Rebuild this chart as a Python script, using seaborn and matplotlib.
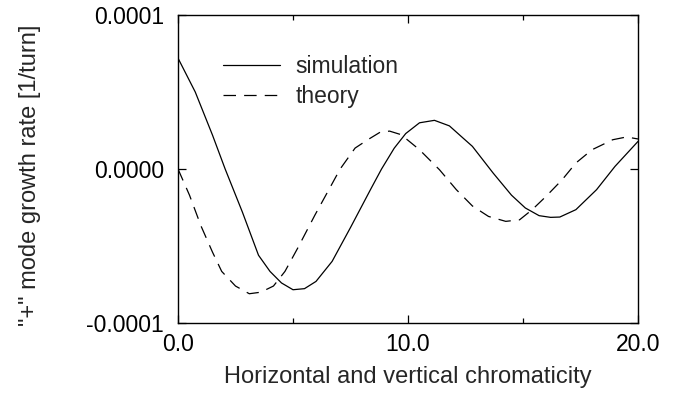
# %%
import numpy as np
import pandas as pd
import matplotlib
matplotlib.use('Agg')
import matplotlib.pyplot as plt
from matplotlib.ticker import FormatStrFormatter, MultipleLocator
import seaborn as sns

# %%
# Growth rate of the "+" mode vs chromaticity, values read in units of 1e-6 /turn
sim_chroma = [0.0, 0.75, 1.5, 2.05, 2.8, 3.5, 4.0, 4.5, 5.0, 5.5, 6.0, 6.7, 7.5,
              8.4, 8.85, 9.4, 9.9, 10.5, 11.15, 11.8, 12.4, 12.8, 13.7, 14.5,
              15.1, 15.7, 16.2, 16.6, 17.3, 18.2, 19.0, 20.0]
sim_rate = [72, 50, 22, 0, -28, -56, -66.5, -74, -78.4, -77.7, -73, -60, -38,
            -12.5, 0, 13.5, 23, 30, 31.6, 28, 20, 14.7, -2.6, -17,
            -25.3, -30.3, -31.4, -31.2, -26.4, -13.4, 1.7, 17.9]

theory_chroma = [0.0, 0.5, 1.0, 1.5, 1.9, 2.5, 3.1, 3.6, 4.15, 4.65, 5.2, 5.95,
                 6.6, 7.05, 7.7, 8.25, 8.8, 9.2, 9.7, 10.5, 11.37, 12.1, 12.8,
                 13.5, 14.25, 14.85, 15.4, 16.0, 16.7, 17.3, 18.0, 18.9, 19.5, 20.0]
theory_rate = [0, -17, -37, -54, -66.5, -76, -81, -80, -76, -66.5, -51.5, -30,
               -12.3, 0, 13.6, 19, 24, 24.6, 22.3, 12.5, -0.5, -13.4, -24,
               -30.8, -34, -33, -26.4, -17.8, -7, 3.9, 12.5, 19, 20.8, 19.5]

x_ticks = [0.0, 10.0, 20.0]
y_ticks = [-0.0001, 0.0, 0.0001]

# %%
sim = pd.DataFrame({'chroma': sim_chroma, 'rate': np.array(sim_rate) * 1e-6,
                    'series': 'simulation'})
theory = pd.DataFrame({'chroma': theory_chroma, 'rate': np.array(theory_rate) * 1e-6,
                       'series': 'theory'})
df = pd.concat([sim, theory], ignore_index=True)

sns.set_style('ticks')
plt.rcParams['font.family'] = ['Liberation Sans', 'DejaVu Sans']

fig, ax = plt.subplots(figsize=(6.84, 3.93), dpi=100)
fig.subplots_adjust(left=178/684, right=638/684, bottom=1-323/393, top=1-15/393)

sns.lineplot(data=df, x='chroma', y='rate', style='series',
             dashes={'simulation': '', 'theory': (10, 6.5)},
             color='black', linewidth=0.9, errorbar=None, sort=False, ax=ax)

ax.set_xlim(0, 20)
ax.set_ylim(-0.0001, 0.0001)
ax.set_xticks(x_ticks)
ax.set_yticks(y_ticks)
ax.xaxis.set_minor_locator(MultipleLocator(5))
ax.xaxis.set_major_formatter(FormatStrFormatter('%.1f'))
ax.yaxis.set_major_formatter(FormatStrFormatter('%.4f'))

ax.tick_params(which='both', direction='in', top=True, right=True,
               labelsize=16.5, width=0.9, color='black', labelcolor='black')
ax.tick_params(which='major', length=6)
ax.tick_params(which='minor', length=3.6)
ax.tick_params(axis='x', pad=7)
ax.tick_params(axis='y', pad=10)
for sp in ax.spines.values():
    sp.set_linewidth(1.0)
    sp.set_color('black')

ax.set_xlabel('Horizontal and vertical chromaticity', fontsize=17, va='center')
ax.set_ylabel('"+" mode growth rate [1/turn]', fontsize=17, va='center')
ax.xaxis.set_label_coords(0.5, -0.175)
ax.yaxis.set_label_coords((30 - 178) / 460, 0.48)

handles, labels = ax.get_legend_handles_labels()
ax.legend(handles, labels, loc='upper left', bbox_to_anchor=(0.098, 0.87),
          frameon=False, fontsize=16.5, borderpad=0, borderaxespad=0,
          handlelength=2.5, handletextpad=0.65, labelspacing=0.3)

plt.savefig('out.png', dpi=100)
